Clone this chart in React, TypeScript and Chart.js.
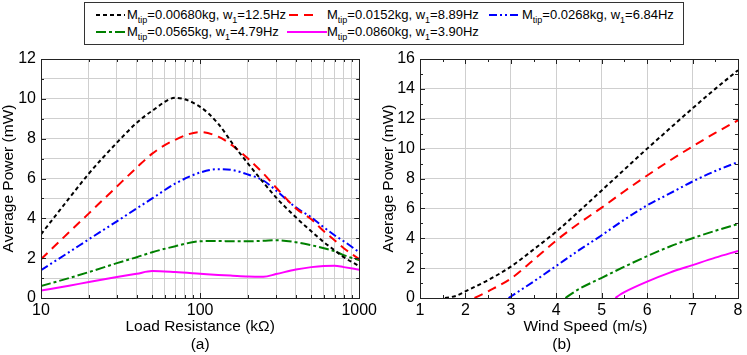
import React, { useEffect, useRef } from 'react';
import { Chart, registerables } from 'chart.js';

Chart.register(...registerables);

// ---------- DATA ----------
const tipMasses = ['0.00680', '0.0152', '0.0268', '0.0565', '0.0860'];
const naturalFreqs = ['12.5', '8.89', '6.84', '4.79', '3.90'];

// (a) power vs load resistance (kΩ)
const resistance = [10, 15, 20, 30, 40, 50, 70, 100, 130, 160, 200, 250, 300, 400, 500, 600, 700, 800, 1000];
const powerR_m1 = [3.2, 5.0, 6.25, 7.8, 8.8, 9.4, 10.05, 9.6, 8.75, 7.75, 6.75, 5.8, 5.05, 4.05, 3.35, 2.8, 2.4, 2.05, 1.6];
const powerR_m2 = [1.95, 3.3, 4.25, 5.6, 6.55, 7.25, 7.95, 8.33, 8.1, 7.65, 7.0, 6.25, 5.55, 4.5, 3.95, 3.35, 2.9, 2.5, 1.95];
const powerR_m3 = [1.4, 2.3, 2.95, 3.85, 4.5, 5.0, 5.75, 6.3, 6.47, 6.42, 6.2, 5.9, 5.4, 4.55, 4.05, 3.55, 3.15, 2.85, 2.3];
const powerR_m4 = [0.6, 1.0, 1.3, 1.75, 2.05, 2.3, 2.6, 2.85, 2.86, 2.85, 2.85, 2.87, 2.9, 2.8, 2.65, 2.5, 2.35, 2.15, 1.9];
const powerR_m5 = [0.37, 0.62, 0.8, 1.05, 1.22, 1.35, 1.3, 1.22, 1.16, 1.12, 1.08, 1.07, 1.2, 1.43, 1.55, 1.61, 1.62, 1.55, 1.42];

// (b) power vs wind speed (m/s)
const windS_m1 = [1.55, 1.8, 2, 2.5, 3, 3.5, 4, 4.5, 5, 5.5, 6, 6.5, 7, 7.5, 8];
const powerW_m1 = [0, 0.15, 0.45, 1.2, 2.1, 3.25, 4.45, 5.8, 7.2, 8.6, 10.0, 11.35, 12.7, 14.0, 15.25];
const windS_m2 = [2.2, 2.5, 3, 3.5, 4, 4.5, 5, 5.5, 6, 6.5, 7, 7.5, 8];
const powerW_m2 = [0, 0.45, 1.3, 2.55, 3.85, 5.0, 6.05, 7.15, 8.2, 9.2, 10.15, 11.05, 11.9];
const windS_m3 = [2.95, 3.5, 4, 4.5, 5, 5.5, 6, 6.5, 7, 7.5, 8];
const powerW_m3 = [0, 1.1, 2.15, 3.2, 4.2, 5.25, 6.2, 7.0, 7.8, 8.5, 9.1];
const windS_m4 = [4.2, 4.5, 5, 5.5, 6, 6.5, 7, 7.5, 8];
const powerW_m4 = [0, 0.6, 1.35, 2.1, 2.8, 3.45, 4.0, 4.5, 4.95];
const windS_m5 = [5.3, 5.4, 5.5, 6, 6.5, 7, 7.5, 8];
const powerW_m5 = [0, 0.22, 0.4, 1.1, 1.7, 2.2, 2.7, 3.15];

// ticks
const leftXLabels = [10, 100, 1000];
const leftXMinor = [20, 30, 40, 50, 60, 70, 80, 90, 200, 300, 400, 500, 600, 700, 800, 900];
const leftYLabels = [0, 2, 4, 6, 8, 10, 12];
const leftYMinor = [1, 3, 5, 7, 9, 11];
const rightXLabels = [1, 2, 3, 4, 5, 6, 7, 8];
const rightXMinor = [1.5, 2.5, 3.5, 4.5, 5.5, 6.5, 7.5];
const rightYLabels = [0, 2, 4, 6, 8, 10, 12, 14, 16];
const rightYMinor = [1, 3, 5, 7, 9, 11, 13, 15];

// ---------- STYLE ----------
const colors = ['#000000', '#ff0000', '#0000ff', '#008000', '#ff00ff'];
const dashes: number[][] = [[4, 3], [9, 6], [8, 3, 2, 3, 2, 3], [10, 3, 3, 3], []];
const FONT = "'Liberation Sans', Arial, Helvetica, sans-serif";
const GRID = '#cfcfcf';
const TICK_FONT = { size: 16, family: FONT };
const TITLE_FONT = { size: 15.5, family: FONT, lineHeight: 18 / 15.5 };

Chart.defaults.font.family = FONT;

const frameTicks = {
  id: 'frameTicks',
  afterDraw(chart: any, _args: any, opts: any) {
    const { ctx, chartArea: a, scales } = chart;
    const x = scales.x, y = scales.y;
    ctx.save();
    ctx.strokeStyle = '#222';
    ctx.lineWidth = 1;
    const seg = (x1: number, y1: number, x2: number, y2: number) => {
      ctx.beginPath(); ctx.moveTo(x1, y1); ctx.lineTo(x2, y2); ctx.stroke();
    };
    const xt = (vals: number[], len: number) => vals.forEach((v) => {
      const px = Math.round(x.getPixelForValue(v)) + 0.5;
      seg(px, a.bottom, px, a.bottom - len);
      seg(px, a.top, px, a.top + len);
    });
    const yt = (vals: number[], len: number) => vals.forEach((v) => {
      const py = Math.round(y.getPixelForValue(v)) + 0.5;
      seg(a.left, py, a.left + len, py);
      seg(a.right, py, a.right - len, py);
    });
    xt(opts.xMajor, 5); xt(opts.xMinor, 3);
    yt(opts.yMajor, 5); yt(opts.yMinor, 3);
    ctx.strokeRect(Math.round(a.left) + 0.5, Math.round(a.top) + 0.5, Math.round(a.right - a.left), Math.round(a.bottom - a.top));
    ctx.restore();
  },
};

function makeDatasets(xs: number[][], ys: number[][]) {
  return ys.map((s, i) => ({
    data: s.map((v, j) => ({ x: xs[i][j], y: v })),
    borderColor: colors[i],
    borderDash: dashes[i],
    borderWidth: 2,
    pointRadius: 0,
    fill: false,
    cubicInterpolationMode: 'monotone' as const,
  }));
}

function leftConfig(): any {
  const series = [powerR_m1, powerR_m2, powerR_m3, powerR_m4, powerR_m5];
  return {
    type: 'line',
    data: { datasets: makeDatasets(series.map(() => resistance), series) },
    plugins: [frameTicks],
    options: {
      responsive: false,
      animation: false,
      layout: { padding: { left: 0, right: 20, top: 59, bottom: 0 } },
      plugins: {
        legend: { display: false },
        tooltip: { enabled: false },
        frameTicks: { xMajor: leftXLabels, xMinor: leftXMinor, yMajor: leftYLabels, yMinor: leftYMinor },
      },
      scales: {
        x: {
          type: 'logarithmic', min: 10, max: 1000,
          afterBuildTicks: (s: any) => {
            s.ticks = [...leftXLabels, ...leftXMinor].sort((p, q) => p - q).map((v) => ({ value: v, major: leftXLabels.includes(v) }));
          },
          grid: { color: GRID, drawTicks: false },
          border: { display: false },
          ticks: {
            autoSkip: false, maxRotation: 0, padding: 3, color: '#000', font: TICK_FONT,
            callback: (v: number) => (leftXLabels.includes(v) ? String(v) : ''),
          },
          title: { display: true, text: ['Load Resistance (kΩ)', '(a)'], color: '#000', font: TITLE_FONT, padding: { top: 0, bottom: 1 } },
          afterFit: (s: any) => { s.height = 57; },
        },
        y: {
          min: 0, max: 12,
          grid: { color: GRID, drawTicks: false },
          border: { display: false },
          ticks: {
            stepSize: 1, autoSkip: false, padding: 5, color: '#000', font: TICK_FONT,
            callback: (v: number) => (leftYLabels.includes(v) ? String(v) : ''),
          },
          title: { display: true, text: 'Average Power (mW)', color: '#000', font: TITLE_FONT, padding: { top: 0, bottom: 0 } },
          afterFit: (s: any) => { s.width = 41; },
        },
      },
    },
  };
}

function rightConfig(): any {
  const series = [powerW_m1, powerW_m2, powerW_m3, powerW_m4, powerW_m5];
  const xs = [windS_m1, windS_m2, windS_m3, windS_m4, windS_m5];
  return {
    type: 'line',
    data: { datasets: makeDatasets(xs, series) },
    plugins: [frameTicks],
    options: {
      responsive: false,
      animation: false,
      layout: { padding: { left: 0, right: 9, top: 59, bottom: 0 } },
      plugins: {
        legend: { display: false },
        tooltip: { enabled: false },
        frameTicks: { xMajor: rightXLabels, xMinor: rightXMinor, yMajor: rightYLabels, yMinor: rightYMinor },
      },
      scales: {
        x: {
          type: 'linear', min: 1, max: 8,
          grid: { color: GRID, drawTicks: false },
          border: { display: false },
          ticks: { stepSize: 1, autoSkip: false, maxRotation: 0, padding: 3, color: '#000', font: TICK_FONT },
          title: { display: true, text: ['   Wind Speed (m/s)', '(b)        '], color: '#000', font: TITLE_FONT, padding: { top: 0, bottom: 1 } },
          afterFit: (s: any) => { s.height = 57; },
        },
        y: {
          min: 0, max: 16,
          grid: { color: GRID, drawTicks: false },
          border: { display: false },
          ticks: { stepSize: 2, autoSkip: false, padding: 5, color: '#000', font: TICK_FONT },
          title: { display: true, text: 'Average Power (mW)', color: '#000', font: TITLE_FONT, padding: { top: 0, bottom: 0 } },
          afterFit: (s: any) => { s.width = 40; },
        },
      },
    },
  };
}

function ChartCanvas({ left, width, config }: { left: number; width: number; config: () => any }) {
  const ref = useRef<HTMLCanvasElement | null>(null);
  useEffect(() => {
    if (!ref.current) return;
    const chart = new Chart(ref.current, config());
    return () => chart.destroy();
  }, []);
  return (
    <canvas
      ref={ref}
      width={width}
      height={355}
      style={{ position: 'absolute', left, top: 0, width, height: 355 }}
    />
  );
}

function Sample({ i, x, w, y }: { i: number; x: number; w: number; y: number }) {
  return (
    <svg style={{ position: 'absolute', left: x, top: y - 3 }} width={w} height={6}>
      <line x1={0} y1={3} x2={w} y2={3} stroke={colors[i]} strokeWidth={2}
        strokeDasharray={dashes[i].length ? dashes[i].join(',') : undefined} />
    </svg>
  );
}

function Label({ i, x, y }: { i: number; x: number; y: number }) {
  const sub: React.CSSProperties = { fontSize: 9, position: 'relative', top: 4, lineHeight: 0 };
  return (
    <div style={{ position: 'absolute', left: x, top: y - 8, height: 16, lineHeight: '16px', fontSize: 13, fontFamily: FONT, color: '#000', whiteSpace: 'nowrap' }}>
      M<span style={sub}>tip</span>={tipMasses[i]}kg, w<span style={sub}>1</span>={naturalFreqs[i]}Hz
    </div>
  );
}

export default function App() {
  const entries = [
    { i: 0, sx: 96, sw: 29, tx: 127, y: 15 },
    { i: 1, sx: 289, sw: 29, tx: 327, y: 15 },
    { i: 2, sx: 489, sw: 29, tx: 522, y: 15 },
    { i: 3, sx: 96, sw: 29, tx: 127, y: 32 },
    { i: 4, sx: 287, sw: 40, tx: 327, y: 32 },
  ];
  return (
    <div style={{ position: 'fixed', left: 0, top: 0, width: 747, height: 355, background: '#fff', overflow: 'hidden' }}>
      <ChartCanvas left={0} width={380} config={leftConfig} />
      <ChartCanvas left={380} width={367} config={rightConfig} />
      <div style={{ position: 'absolute', left: 84, top: 2, width: 600, height: 43, border: '1px solid #333', boxSizing: 'border-box', background: '#fff' }} />
      {entries.map((e) => (
        <React.Fragment key={e.i}>
          <Sample i={e.i} x={e.sx} w={e.sw} y={e.y} />
          <Label i={e.i} x={e.tx} y={e.y} />
        </React.Fragment>
      ))}
    </div>
  );
}
